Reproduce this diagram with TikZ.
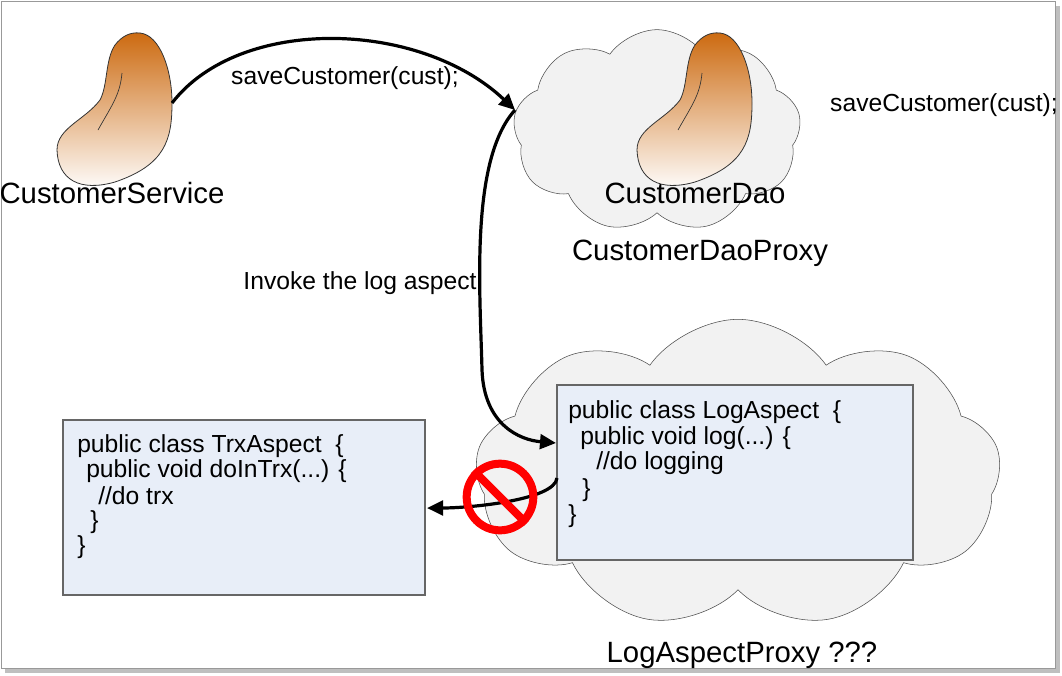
\documentclass[tikz,border=0pt]{standalone}
\usepackage{fontspec}
\setmainfont{Liberation Sans}
\usetikzlibrary{shapes.symbols,arrows.meta}
\definecolor{orng}{HTML}{CC6A10}
\definecolor{codebg}{HTML}{E8EEF8}
\definecolor{cloudbg}{HTML}{F2F2F2}
\tikzset{
  cl/.style={cloud, cloud puffs=9, cloud puff arc=110, aspect=1.5, draw=black!70, fill=cloudbg, inner sep=0pt},
  box/.style={draw=black!60, fill=codebg, line width=0.8pt},
  code/.style={anchor=west, font=\fontsize{18.5}{21}\selectfont, inner sep=0pt},
  lab/.style={font=\fontsize{18.5}{21}\selectfont, inner sep=0pt},
  big/.style={font=\fontsize{22}{26}\selectfont, inner sep=0pt},
  conn/.style={line width=2.4pt, -{Triangle[length=12pt,width=11pt]}},
  pics/bean/.style={code={
    \shade[top color=orng, bottom color=white, draw=black!80, line width=0.6pt]
      (140,33) .. controls (160,35) and (172,70) .. (172,103)
      .. controls (172,140) and (165,165) .. (115,182)
      .. controls (80,192) and (58,180) .. (57,150)
      .. controls (57,128) and (85,120) .. (100,100)
      .. controls (108,85) and (105,60) .. (115,45)
      .. controls (122,36) and (130,32) .. (140,33) -- cycle;
    \draw[black!80, line width=0.5pt] (122,73) .. controls (120,95) and (112,105) .. (98,130);
  }}
}
\begin{document}
\begin{tikzpicture}[x=0.75pt,y=-0.75pt]
\useasboundingbox (0,0) rectangle (1062,675);
\fill[black!25] (5,6) rectangle (1060,673);
\fill[white,draw=black!40] (1,1) rectangle (1055,668);

\node[cl, minimum width=216pt, minimum height=152pt] (daocloud) at (657,131) {};
\node[cl, minimum width=394pt, minimum height=232pt] (logcloud) at (738,474) {};

\pic at (0,0) {bean};
\pic at (580,0) {bean};
\coordinate (svc) at (172,103);
\coordinate (daoin) at (515,110);

\node[big] (svcname) at (112,193) {CustomerService};
\node[big] (daoname) at (695,193) {CustomerDao};
\node[big] (proxyname) at (700,253) {CustomerDaoProxy};
\node[lab,anchor=east] (save2) at (1058,105) {saveCustomer(cust);};
\node[big] (logproxy) at (742,655) {LogAspectProxy ???};

\draw[box] (63,420) rectangle (425,595);
\node (trxbox) at (244,508) [minimum width=271.5pt, minimum height=131pt, inner sep=0pt] {};
\draw[box] (557,385) rectangle (913,560);
\node (logbox) at (735,472) [minimum width=267pt, minimum height=131pt, inner sep=0pt] {};

\node[code] (t1) at (77,446) {public class TrxAspect~~\{};
\node[code] (t2) at (86,471) {public void doInTrx(...) \{};
\node[code] (t3) at (98,496) {//do trx};
\node[code] (t4) at (90,522) {\}};
\node[code] (t5) at (77,547) {\}};

\node[code] (l1) at (568,412) {public class LogAspect~~\{};
\node[code] (l2) at (580,438) {public void log(...) \{};
\node[code] (l3) at (596,463) {//do logging};
\node[code] (l4) at (582,490) {\}};
\node[code] (l5) at (568,516) {\}};

\coordinate (login) at (556,443);
\coordinate (logout) at (557,478);
\coordinate (trxin) at (427,508);

\draw[conn] (svc) .. controls (240,15) and (420,20) .. (daoin);
\node[lab] (save1) at (345,78) {saveCustomer(cust);};
\draw[conn] (daoin) .. controls (470,160) and (480,290) .. (482,370)
  .. controls (484,425) and (520,440) .. (login);
\node[lab] (invoke) at (360,283) {Invoke the log aspect};
\draw[conn] (logout) .. controls (555,500) and (470,508) .. (trxin);

\node[circle, draw=red, line width=6pt, minimum size=50pt, inner sep=0pt] (no) at (500,497) {};
\draw[red, line width=6pt] (no.135) -- (no.-45);
\end{tikzpicture}
\end{document}
